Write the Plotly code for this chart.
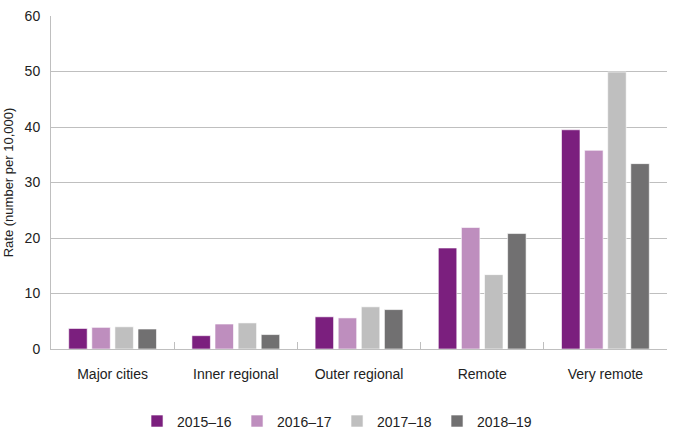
import plotly.graph_objects as go

categories = ["Major cities", "Inner regional", "Outer regional", "Remote", "Very remote"]
series_names = ["2015–16", "2016–17", "2017–18", "2018–19"]
v_2015_16 = [3.7, 2.4, 5.8, 18.2, 39.5]
v_2016_17 = [3.9, 4.5, 5.6, 21.9, 35.8]
v_2017_18 = [4.0, 4.7, 7.6, 13.4, 49.9]
v_2018_19 = [3.6, 2.6, 7.1, 20.8, 33.4]
y_ticks = [0, 10, 20, 30, 40, 50, 60]

colors = ["#7b1f7e", "#be8ebe", "#bfbfbf", "#717071"]
values = [v_2015_16, v_2016_17, v_2017_18, v_2018_19]

fig = go.Figure()
for name, vals, col in zip(series_names, values, colors):
    fig.add_trace(go.Bar(
        x=categories, y=vals, name=name,
        marker=dict(color=col, line=dict(color="rgba(255,255,255,0.6)", width=1)),
    ))

fig.update_layout(
    width=675, height=439,
    margin=dict(l=51, r=8, t=16, b=90),
    paper_bgcolor="white", plot_bgcolor="white",
    barmode="group", bargap=0.25, bargroupgap=0.2,
    font=dict(family="Liberation Sans, Arial, sans-serif", size=14, color="#222222"),
    showlegend=True,
    legend=dict(orientation="h", xref="container", yref="container",
                x=0.4993, xanchor="center", y=0.04, yanchor="middle",
                font=dict(size=14), entrywidth=55, itemwidth=30),
    xaxis=dict(showline=True, linecolor="#bfbfbf", linewidth=1, automargin=False,
               ticks="inside", ticklen=7, tickcolor="#bfbfbf", tickson="boundaries",
               showgrid=False, ticklabelstandoff=12),
    yaxis=dict(range=[0, 60], tickvals=y_ticks, showgrid=True, gridcolor="#bfbfbf",
               gridwidth=1, showline=True, linecolor="#bfbfbf", zeroline=False,
               ticks="", ticklabelstandoff=7, automargin=False,
               title=dict(text="Rate (number per 10,000)", font=dict(size=13), standoff=8)),
)

fig.write_html("out.html", config={"displayModeBar": False},
               post_script="document.body.style.margin='0';document.body.style.overflow='hidden';")
